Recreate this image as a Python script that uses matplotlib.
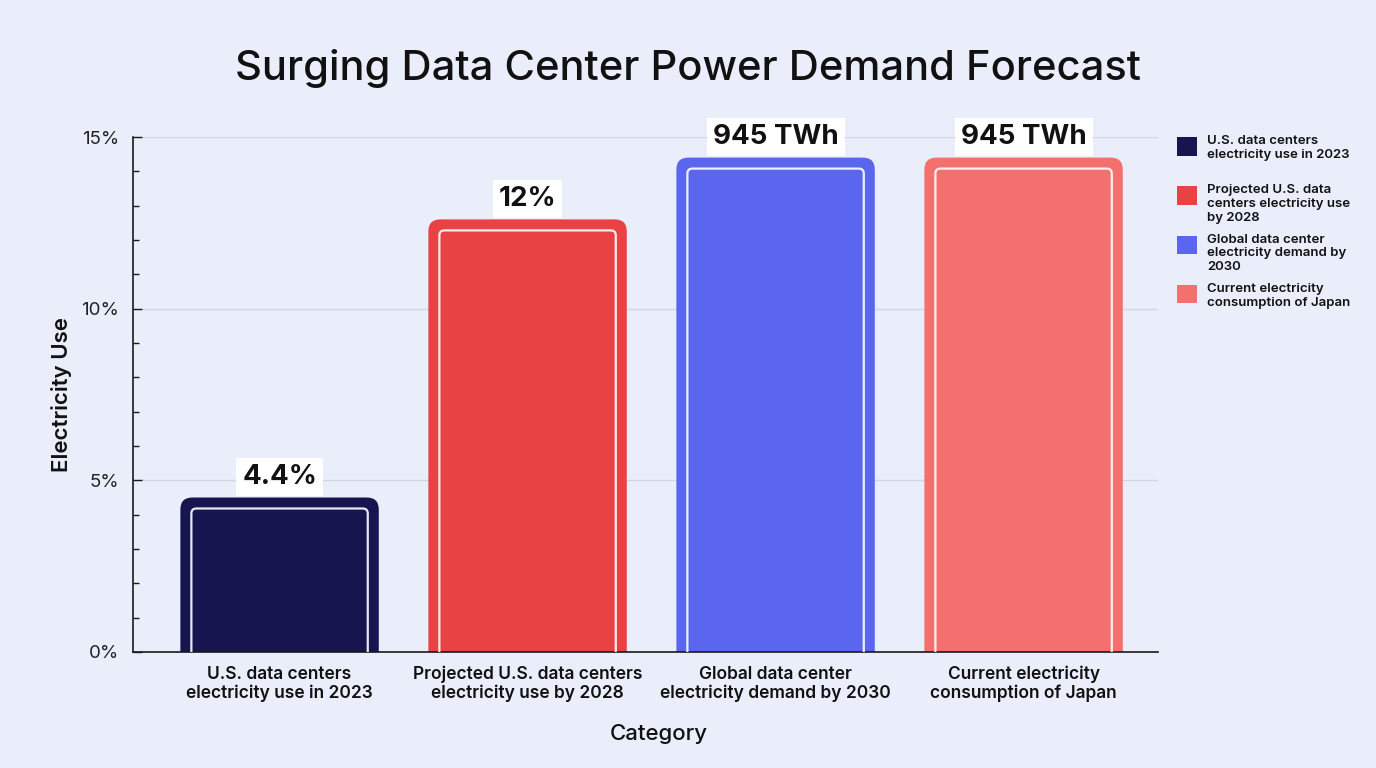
import textwrap
import matplotlib
matplotlib.use("Agg")
import matplotlib.pyplot as plt
from matplotlib.patches import FancyBboxPatch, Rectangle
from matplotlib.ticker import MultipleLocator, PercentFormatter

# ---------------- data ----------------
categories = [
    "U.S. data centers electricity use in 2023",
    "Projected U.S. data centers electricity use by 2028",
    "Global data center electricity demand by 2030",
    "Current electricity consumption of Japan",
]
values = [4.5, 12.6, 14.4, 14.4]          # bar heights as read (percent axis)
value_labels = ["4.4%", "12%", "945 TWh", "945 TWh"]
colors = ["#17154F", "#E94244", "#5A66EE", "#F3706E"]
title = "Surging Data Center Power Demand Forecast"
x_label = "Category"
y_label = "Electricity Use"

# ---------------- style ----------------
BG = "#EAEEFB"
TXT = "#111111"
plt.rcParams["font.family"] = ["Inter", "DejaVu Sans"]

W, H = 1376, 768
fig = plt.figure(figsize=(W / 100, H / 100), dpi=100, facecolor=BG)
ax = fig.add_axes([133 / W, 1 - 652 / H, (1158 - 133) / W, (652 - 137) / H])
ax.set_facecolor(BG)

x = list(range(len(categories)))
bars = ax.bar(x, values, width=0.8, color=colors, zorder=2)
ax.set_xlim(-0.591, 3.542)
ax.set_ylim(0, 15)

# pixel size of one data unit
p0 = ax.transData.transform((0, 0))
p1 = ax.transData.transform((1, 1))
sx, sy = p1[0] - p0[0], p1[1] - p0[1]

for rect, col in zip(bars.patches, colors):
    x0, w, h = rect.get_x(), rect.get_width(), rect.get_height()
    rect.set_visible(False)
    outer = FancyBboxPatch((x0, -1), w, h + 1,
                           boxstyle=f"round,pad=0,rounding_size={12 / sx}",
                           mutation_aspect=sx / sy, fc=col, ec="none", zorder=2)
    ax.add_patch(outer)
    inner = FancyBboxPatch((x0 + 11 / sx, -1), w - 22 / sx, h + 1 - 11 / sy,
                           boxstyle=f"round,pad=0,rounding_size={5 / sx}",
                           mutation_aspect=sx / sy, fc="none",
                           ec=(1, 1, 1, 0.9), lw=1.6, zorder=3)
    ax.add_patch(inner)

for xi, v, lbl in zip(x, values, value_labels):
    ax.annotate(lbl, (xi, v), xytext=(0, 14.8), textcoords="offset points",
                ha="center", va="center", fontsize=20, fontweight="bold", color=TXT,
                bbox=dict(boxstyle="square,pad=0.22", fc="white", ec="none"), zorder=5)

# axes styling
for s in ("top", "right"):
    ax.spines[s].set_visible(False)
for s in ("left", "bottom"):
    ax.spines[s].set_color("#1a1a1a")
    ax.spines[s].set_linewidth(1.2)

ax.yaxis.set_major_locator(MultipleLocator(5))
ax.yaxis.set_minor_locator(MultipleLocator(1))
ax.yaxis.set_major_formatter(PercentFormatter(xmax=100, decimals=0))
ax.tick_params(axis="y", which="major", direction="in", length=6.5, width=1,
               pad=10, labelsize=13.5, color="#1a1a1a", labelcolor="#222222")
ax.tick_params(axis="y", which="minor", direction="in", length=4, width=1, color="#1a1a1a")
ax.yaxis.grid(True, which="major", color="#D3D7E2", lw=1)
ax.set_axisbelow(True)

ax.set_xticks(x, labels=[textwrap.fill(c, 27) for c in categories],
              fontsize=12.5, fontweight="semibold", linespacing=1.1, color=TXT)
ax.tick_params(axis="x", length=0, pad=10)

ax.set_ylabel(y_label, fontsize=16, fontweight="semibold", labelpad=7, color=TXT)
ax.set_xlabel(x_label, fontsize=16, fontweight="medium", labelpad=16, color=TXT)
ax.xaxis.label.set_x(0.513)

fig.text(0.5, 1 - 68 / H, title, ha="center", va="center", fontsize=30,
         fontweight="medium", color=TXT)

# legend (fixed pitch, top aligned)
for i, (cat, col) in enumerate(zip(categories, colors)):
    top = 137 + i * 49.3
    fig.add_artist(Rectangle((1177 / W, 1 - (top + 18.5) / H), 20 / W, 18.5 / H,
                             transform=fig.transFigure, fc=col, ec="none"))
    fig.text(1207 / W, 1 - (top - 2) / H, textwrap.fill(cat, 23), ha="left", va="top",
             fontsize=9.5, fontweight="semibold", linespacing=1.2, color=TXT)

fig.savefig("out.png", dpi=100, facecolor=BG)
